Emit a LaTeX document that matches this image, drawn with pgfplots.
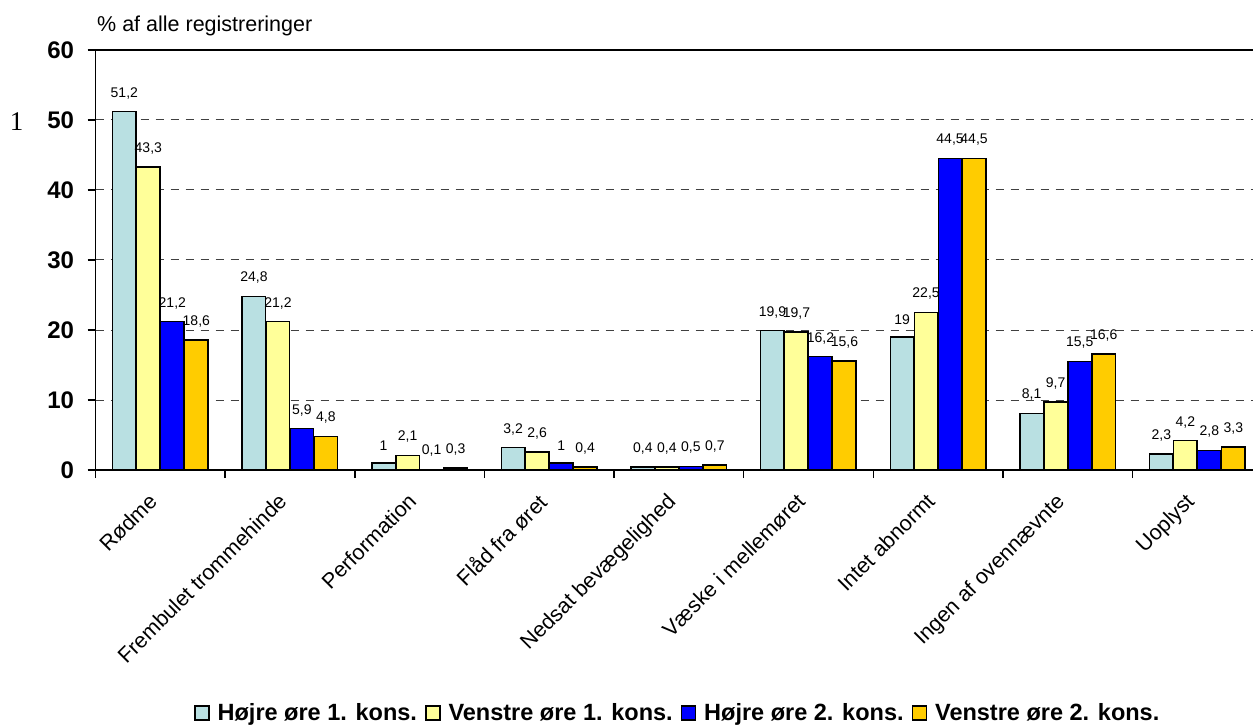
\documentclass[border=0pt]{standalone}
\usepackage{fontspec}
\setmainfont{Liberation Sans}
\newfontfamily\seriffont{Liberation Serif}
\usepackage{pgfplots}
\pgfplotsset{compat=1.18}
\definecolor{cA}{RGB}{185,224,226}
\definecolor{cB}{RGB}{255,255,153}
\definecolor{cC}{RGB}{0,0,255}
\definecolor{cD}{RGB}{255,204,0}
\begin{document}
\begin{tikzpicture}
\path[use as bounding box] (0,0) rectangle (1253pt,726pt);
\node[font=\seriffont\fontsize{27}{27}\selectfont, anchor=base] at (16.5pt,595pt) {1};
\node[font=\fontsize{21.5}{21.5}\selectfont, anchor=base west, inner sep=0pt] at (97pt,694pt) {\% af alle registreringer};
\begin{axis}[
  at={(95.5pt,256pt)}, anchor=south west,
  scale only axis, width=1157.5pt, height=420pt,
  xmin=-0.5, xmax=8.43, ymin=0, ymax=60,
  axis x line*=bottom, axis y line*=left,
  axis line style={line width=1.5pt, -},
  ybar, bar width=23.5pt,
  /pgf/number format/assume math mode=true,
  /pgf/number format/use comma,
  ytick={0,10,...,60},
  ymajorgrids,
  major grid style={dash pattern=on 8pt off 7pt, line width=1pt, black!75},
  tick align=outside, major tick length=8pt,
  ytick style={line width=1.5pt, black},
  yticklabel style={font=\bfseries\fontsize{24}{24}\selectfont, xshift=-10pt},
  xtick={0,...,8},
  xticklabels={Rødme,Frembulet trommehinde,Performation,Flåd fra øret,Nedsat bevægelighed,Væske i mellemøret,Intet abnormt,Ingen af ovennævnte,Uoplyst},
  xtick style={draw=none},
  xticklabel style={xshift=-13pt, yshift=-9pt, rotate=45, anchor=north east, font=\fontsize{21.5}{21.5}\selectfont},
  extra x ticks={-0.5,0.5,...,7.5},
  extra x tick labels={},
  extra x tick style={xtick style={draw=black, line width=1.5pt}},
  nodes near coords,
  every node near coord/.append style={font=\fontsize{14}{14}\selectfont, inner sep=0pt, yshift=12pt, black},
  legend style={at={(0.503,-0.579)}, anchor=center, draw=none, legend columns=4,
    font=\bfseries\fontsize{23.5}{23.5}\selectfont,
    /tikz/every even column/.append style={column sep=6pt}},
  legend image code/.code={\draw[#1, line width=1.5pt, draw=black] (0pt,-7pt) rectangle (14pt,7pt); \path (20pt,0pt);},
]
\addplot[fill=cA, draw=black, line width=1.5pt, bar shift=-36pt] coordinates {(0,51.2) (1,24.8) (2,1) (3,3.2) (4,0.4) (5,19.9) (6,19) (7,8.1) (8,2.3)};
\addplot[fill=cB, draw=black, line width=1.5pt, bar shift=-12pt] coordinates {(0,43.3) (1,21.2) (2,2.1) (3,2.6) (4,0.4) (5,19.7) (6,22.5) (7,9.7) (8,4.2)};
\addplot[fill=cC, draw=black, line width=1.5pt, bar shift=12pt] coordinates {(0,21.2) (1,5.9) (2,0.1) (3,1) (4,0.5) (5,16.2) (6,44.5) (7,15.5) (8,2.8)};
\addplot[fill=cD, draw=black, line width=1.5pt, bar shift=36pt] coordinates {(0,18.6) (1,4.8) (2,0.3) (3,0.4) (4,0.7) (5,15.6) (6,44.5) (7,16.6) (8,3.3)};
\legend{Højre øre 1. kons.,Venstre øre 1. kons.,Højre øre 2. kons.,Venstre øre 2. kons.}
\draw[line width=1.5pt] (rel axis cs:0,1) -- (rel axis cs:1,1);
\end{axis}
\end{tikzpicture}
\end{document}
